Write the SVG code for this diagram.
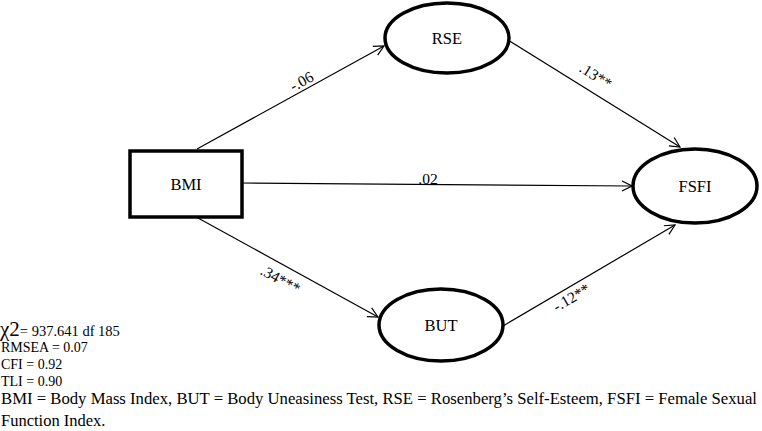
<svg xmlns="http://www.w3.org/2000/svg" width="762" height="431" viewBox="0 0 762 431" font-family="'Liberation Serif', 'Times New Roman', serif">
<defs>
<style>
text{font-family:'Liberation Serif','Times New Roman',serif;fill:#000}
.node{fill:#fff;stroke:#000;stroke-width:3.5}
.lbl{font-size:16.5px;text-anchor:middle}
.coef{font-size:15.5px;text-anchor:middle}
.edge{stroke:#000;stroke-width:1.2;fill:none;marker-end:url(#arr)}
</style>
<marker id="arr" viewBox="0 0 12 12" refX="11" refY="6" markerWidth="12" markerHeight="12" markerUnits="userSpaceOnUse" orient="auto">
<path d="M1,1 L11,6 L1,11" fill="none" stroke="#000" stroke-width="1.2"/>
</marker>
</defs>
<rect width="762" height="431" fill="#fff"/>
<g id="connectors">
<line class="edge" x1="197" y1="149" x2="384" y2="46"/>
<line class="edge" x1="508" y1="40" x2="680" y2="147"/>
<line class="edge" x1="242" y1="183" x2="632" y2="186"/>
<line class="edge" x1="198" y1="218" x2="378" y2="317"/>
<line class="edge" x1="503" y1="326" x2="675" y2="225"/>
<text class="coef" font-family="'Liberation Serif', serif" transform="translate(304,86) rotate(-28.5)">-.06</text>
<text class="coef" font-family="'Liberation Serif', serif" transform="translate(593,80) rotate(32)">.13**</text>
<text class="coef" font-family="'Liberation Serif', serif" x="428" y="184">.02</text>
<text class="coef" font-family="'Liberation Serif', serif" transform="translate(278,284) rotate(28.8)">.34***</text>
<text class="coef" font-family="'Liberation Serif', serif" transform="translate(574,302) rotate(-30.4)">-.12**</text>
</g>
<g id="BMI">
<rect class="node" x="130" y="151" width="112" height="66"/>
<text class="lbl" font-family="'Liberation Serif', serif" x="186" y="190">BMI</text>
</g>
<g id="RSE">
<ellipse class="node" cx="447" cy="38" rx="62" ry="35"/>
<text class="lbl" font-family="'Liberation Serif', serif" x="447" y="44">RSE</text>
</g>
<g id="FSFI">
<ellipse class="node" cx="695" cy="186" rx="62" ry="37"/>
<text class="lbl" font-family="'Liberation Serif', serif" x="695" y="192">FSFI</text>
</g>
<g id="BUT">
<ellipse class="node" cx="441" cy="325" rx="62" ry="36"/>
<text class="lbl" font-family="'Liberation Serif', serif" x="441" y="331">BUT</text>
</g>
<g id="notes" font-family="'Liberation Serif', serif">
<text x="0" y="336"><tspan font-size="21">χ2</tspan><tspan font-size="14.5">= 937.641 df 185</tspan></text>
<text x="1" y="352" font-size="14">RMSEA = 0.07</text>
<text x="1" y="369" font-size="14">CFI = 0.92</text>
<text x="1" y="386" font-size="14">TLI = 0.90</text>
<text x="1" y="404" font-size="16.5" textLength="756" lengthAdjust="spacingAndGlyphs">BMI = Body Mass Index, BUT = Body Uneasiness Test, RSE = Rosenberg’s Self-Esteem, FSFI = Female Sexual</text>
<text x="1" y="426" font-size="16.5">Function Index.</text>
</g>
</svg>
